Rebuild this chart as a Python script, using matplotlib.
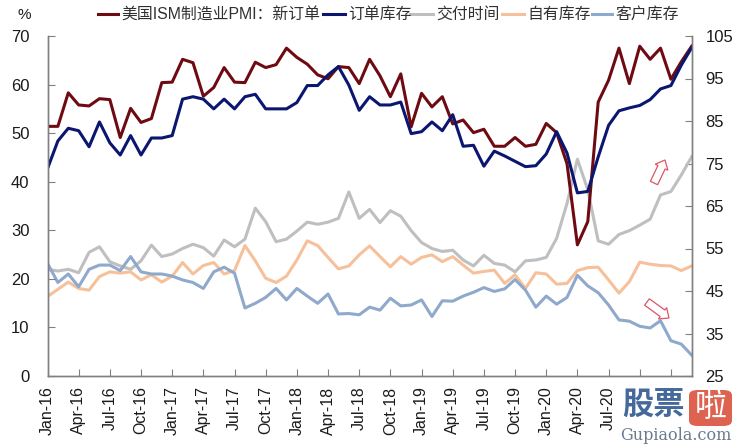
import matplotlib
matplotlib.use('Agg')
import matplotlib.pyplot as plt
from matplotlib.patches import FancyArrow, FancyBboxPatch
from matplotlib.lines import Line2D
from matplotlib.transforms import Affine2D

plt.rcParams['font.family'] = ['Liberation Sans', 'Noto Sans CJK SC', 'DejaVu Sans']

# monthly, Jan-16 to Mar-21
new_orders = [51.4, 51.4, 58.3, 55.8, 55.6, 57.1, 56.9, 49.1, 55.1, 52.2, 53.0, 60.4, 60.5, 65.2, 64.5, 57.6,
              59.4, 63.5, 60.5, 60.4, 64.6, 63.5, 64.1, 67.5, 65.6, 64.2, 62.0, 61.2, 63.7, 63.5, 60.2, 65.2,
              61.8, 57.5, 62.2, 51.3, 58.2, 55.4, 57.5, 51.9, 52.7, 50.1, 50.8, 47.3, 47.3, 49.1, 47.3, 47.7,
              52.0, 50.1, 43.7, 27.0, 31.8, 56.4, 60.9, 67.5, 60.2, 67.9, 65.2, 67.5, 61.1, 64.7, 67.9]
backlog = [42.7, 48.4, 51.0, 50.5, 47.2, 52.3, 48.0, 45.5, 49.5, 45.5, 49.0, 49.0, 49.5, 57.0, 57.5, 57.0,
           55.0, 57.0, 55.0, 57.5, 58.0, 55.0, 55.0, 55.0, 56.3, 59.8, 59.8, 62.0, 63.7, 59.9, 54.7, 57.5,
           55.8, 55.8, 56.4, 49.9, 50.3, 52.3, 50.5, 53.8, 47.3, 47.5, 43.2, 46.3, 45.3, 44.2, 43.1, 43.3,
           45.7, 50.3, 45.9, 37.7, 38.0, 45.1, 51.6, 54.6, 55.2, 55.7, 56.9, 59.1, 59.8, 64.0, 67.6]
delivery = [50.1, 49.7, 50.1, 49.3, 54.1, 55.4, 51.9, 50.9, 50.1, 52.1, 55.8, 53.1, 53.7, 55.0, 56.0, 55.2,
            53.2, 57.0, 55.4, 57.2, 64.5, 61.3, 56.6, 57.2, 59.1, 61.2, 60.7, 61.2, 62.1, 68.3, 62.1, 64.2,
            61.1, 63.9, 62.6, 59.2, 56.4, 55.0, 54.3, 54.6, 52.3, 50.9, 53.4, 51.5, 51.1, 49.5, 52.1, 52.3,
            52.9, 57.4, 65.6, 76.0, 68.8, 56.8, 56.0, 58.3, 59.2, 60.5, 61.9, 67.6, 68.4, 72.3, 76.6]
own_inv = [43.7, 45.4, 47.1, 45.6, 45.2, 48.4, 49.5, 49.2, 49.5, 47.6, 48.8, 47.1, 48.5, 51.7, 49.0, 51.0,
           51.7, 49.0, 49.8, 55.7, 52.1, 48.0, 47.0, 48.5, 52.3, 56.8, 55.7, 52.9, 50.2, 50.9, 53.5, 55.6,
           53.1, 50.7, 53.1, 51.3, 52.9, 53.5, 51.9, 53.1, 51.1, 49.2, 49.6, 49.9, 46.8, 48.8, 45.6, 49.3,
           49.0, 46.6, 46.8, 49.8, 50.5, 50.6, 47.6, 44.5, 47.2, 51.8, 51.3, 51.0, 50.9, 49.8, 50.9]
cust_inv = [51.5, 47.0, 49.0, 46.0, 50.1, 51.1, 51.1, 49.8, 53.1, 49.5, 49.0, 49.0, 48.5, 47.6, 47.0, 45.6,
            49.5, 50.6, 49.2, 41.0, 42.1, 43.5, 45.6, 42.9, 45.6, 43.8, 42.1, 44.3, 39.6, 39.7, 39.4, 41.2,
            40.5, 43.3, 41.5, 41.7, 42.9, 39.0, 42.7, 42.6, 43.8, 44.7, 45.8, 44.9, 45.5, 47.7, 45.2, 41.2,
            43.8, 41.9, 43.5, 48.7, 46.2, 44.6, 41.7, 38.2, 37.9, 36.7, 36.3, 38.0, 33.3, 32.5, 29.9]
# last two are hidden by the watermark in the original
tick_labels = ['Jan-16', 'Apr-16', 'Jul-16', 'Oct-16', 'Jan-17', 'Apr-17', 'Jul-17', 'Oct-17', 'Jan-18', 'Apr-18',
               'Jul-18', 'Oct-18', 'Jan-19', 'Apr-19', 'Jul-19', 'Oct-19', 'Jan-20', 'Apr-20', 'Jul-20', '', '']
names = ['美国ISM制造业PMI：新订单', '订单库存', '交付时间', '自有库存', '客户库存']
colors = ['#6e0b12', '#0a1670', '#bfbfbf', '#f6c19a', '#8ea9cc']

W, H = 737, 446
GREY = '#808080'
TXT = '#1a1a1a'

fig = plt.figure(figsize=(W / 100, H / 100), dpi=100)
ax = fig.add_axes([47.5 / W, 1 - 376 / H, 644.2 / W, 340 / H])
ax2 = ax.twinx()
ax.set_zorder(2)
ax.patch.set_visible(False)

x = list(range(len(new_orders)))
ax2.plot(x, delivery, color=colors[2], lw=2.2, solid_joinstyle='round')
ax2.plot(x, own_inv, color=colors[3], lw=2.2, solid_joinstyle='round')
ax2.plot(x, cust_inv, color=colors[4], lw=2.2, solid_joinstyle='round')
ax.plot(x, new_orders, color=colors[0], lw=2.2, solid_joinstyle='round')
ax.plot(x, backlog, color=colors[1], lw=2.2, solid_joinstyle='round')

ax.set_xlim(0, 62)
ax.set_ylim(0, 70)
ax2.set_ylim(25, 105)
ax.set_yticks(range(0, 71, 10))
ax2.set_yticks(range(25, 106, 10))
ax.set_xticks(range(0, 61, 3))
ax.set_xticklabels(tick_labels, rotation=90)

for a in (ax, ax2):
    a.spines['top'].set_visible(False)
    for s in a.spines.values():
        s.set_color(GREY)
        s.set_linewidth(1.0)
    a.tick_params(axis='y', direction='in', length=5, color=GREY, labelsize=12, labelcolor=TXT)
ax.tick_params(axis='y', pad=13)
ax2.tick_params(axis='y', pad=10)
ax.tick_params(axis='x', direction='in', length=5, color=GREY, labelsize=11.5, labelcolor=TXT, pad=7.5)

fig.text(17 / W, 1 - 15 / H, '%', fontsize=11, color=TXT, va='center')

# legend laid out by hand, pixel positions from the reference
leg_x = [98, 323, 410, 502, 592]
leg_len = [20, 22, 23, 22, 20]
for px, ln, c, name in zip(leg_x, leg_len, colors, names):
    fig.add_artist(Line2D([px / W, (px + ln) / W], [1 - 14 / H] * 2, color=c, lw=2.2))
    fig.text((px + ln + 3) / W, 1 - 14 / H, name, fontsize=11.4, color='#303030', va='center')

# hollow arrows, drawn in pixels from the top-left corner
to_px = Affine2D().scale(1, -1).translate(0, H)
for x0, y0, x1, y1 in [(654, 183, 665, 160), (647, 302, 669, 318)]:
    fig.add_artist(FancyArrow(x0, y0, x1 - x0, y1 - y0, width=8, head_width=14, head_length=8,
                              length_includes_head=True, transform=to_px,
                              fc='white', ec='#dd5566', lw=0.9))

# watermark
fig.text(653 / W, 1 - 407 / H, '股票', fontsize=22.5, color='#44699a', ha='center', va='center',
         fontweight='bold', zorder=5)
box = FancyBboxPatch((689 / W, 1 - 426 / H), 43 / W, 36 / H, boxstyle='round,pad=0,rounding_size=0.012',
                     transform=fig.transFigure, fc='#dd6350', ec='none', zorder=5)
fig.add_artist(box)
fig.text(710.5 / W, 1 - 408 / H, '啦', fontsize=23, color='white', ha='center', va='center', zorder=6)
fig.text(676 / W, 1 - 436 / H, 'Gupiaola.com', fontsize=11.5, family='DejaVu Serif', color='#6b7b8f',
         ha='center', va='center', zorder=6)

fig.savefig('out.png', dpi=100)
